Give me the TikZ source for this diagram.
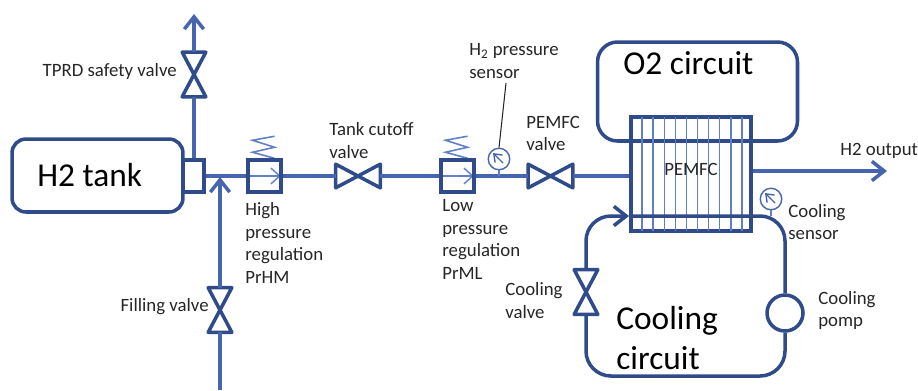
\documentclass[tikz,border=0pt]{standalone}
\usepackage{fontspec}
\setmainfont{Carlito}
\usetikzlibrary{arrows.meta, positioning, calc}
\definecolor{darkline}{HTML}{2F4B8A}
\definecolor{pipeline}{HTML}{4665AC}
\definecolor{thinline}{HTML}{5F7FC6}
\newcommand{\smalltext}{\fontsize{10.7}{13}\selectfont}
\newcommand{\bigtext}{\fontsize{19}{23}\selectfont}
\tikzstyle{pipe} = [draw=pipeline,line width=2pt]
\tikzstyle{pipearrow} = [pipe,-{Straight Barb[length=7pt,width=11pt,line width=2pt]}]
\tikzstyle{thick box} = [draw=darkline,line width=2pt,rectangle,inner sep=0pt]
\tikzstyle{circuit} = [draw=darkline,line width=2pt,rounded corners=0.5cm]
\tikzstyle{note} = [align=left,inner sep=0pt,anchor=west,font=\smalltext,text=black!85]
\tikzstyle{hvalve} = [inner sep=0pt,minimum width=0.88cm,minimum height=0.46cm,
        append after command={\pgfextra{\draw[darkline,line width=2pt,line join=round]
        (\tikzlastnode.north west) -- (\tikzlastnode.south east) -- (\tikzlastnode.north east)
        -- (\tikzlastnode.south west) -- cycle;}}]
\tikzstyle{vvalve} = [inner sep=0pt,minimum width=0.46cm,minimum height=0.88cm,
        append after command={\pgfextra{\draw[darkline,line width=2pt,line join=round]
        (\tikzlastnode.north west) -- (\tikzlastnode.south east) -- (\tikzlastnode.south west)
        -- (\tikzlastnode.north east) -- cycle;}}]
\tikzstyle{regulator} = [thick box,minimum width=0.66cm,minimum height=0.64cm,
        append after command={\pgfextra{
        \draw[thinline,line width=0.8pt,-{Straight Barb[length=5pt,width=9pt,line width=0.8pt]}]
        (\tikzlastnode.west) -- ([xshift=-0.04cm]\tikzlastnode.east);
        \draw[thinline,line width=0.9pt]
        ([shift={(10,-22)}]\tikzlastnode.north) -- ([shift={(-12,-18)}]\tikzlastnode.north)
        -- ([shift={(10,-11)}]\tikzlastnode.north) -- ([shift={(-12,-6)}]\tikzlastnode.north)
        -- ([shift={(10,0)}]\tikzlastnode.north);}}]
\tikzstyle{gauge} = [draw=pipeline,line width=0.8pt,circle,inner sep=0pt,minimum width=0.43cm,
        append after command={\pgfextra{
        \draw[pipeline,line width=0.8pt,-{Straight Barb[length=4pt,width=6pt,line width=0.8pt]}]
        ([shift={(4,4)}]\tikzlastnode.center) -- ([shift={(-6,-6)}]\tikzlastnode.center);}}]

\begin{document}
\begin{tikzpicture}[x=0.02cm,y=-0.02cm]
        \useasboundingbox (0,0) rectangle (918,390);
        \node (tank) [thick box,rounded corners=0.28cm,minimum width=3.42cm,minimum height=1.46cm] at (97.5,175.5) {};
        \node (tanklabel) [note,font=\bigtext,text=black] at (37,175) {H2 tank};
        \node (tankport) [thick box,minimum width=0.42cm,minimum height=0.64cm] at (193.5,176) {};

        \node (tprd) [vvalve] at (194,74.5) {};
        \node (tprdlabel) [note,anchor=east] at (177,71) {TPRD safety valve};
        \coordinate (vent) at (194,14);
        \draw [pipe] (tprd.south) -- (tprd.south |- tankport.north);
        \draw [pipearrow] (tprd.north) -- (vent);

        \node (fill) [vvalve] at (220,310) {};
        \node (filllabel) [note,anchor=east] at (209,307) {Filling valve};
        \coordinate (fillin) at (220,390);
        \coordinate (filljoin) at (220,177);
        \draw [pipe] (fillin) -- (fill.south);
        \draw [pipearrow] (fill.north) -- (filljoin);

        \node (prhm) [regulator] at (264.5,176) {};
        \node (prhmlabel) [note] at (245,243) {High\\pressure\\regulation\\PrHM};
        \draw [pipe] (tankport.east |- prhm) -- (prhm.west);

        \node (cutoff) [hvalve] at (358,176) {};
        \node (cutofflabel) [note] at (329,140.5) {Tank cutoff\\valve};
        \draw [pipe] (prhm.east) -- (cutoff.west);

        \node (prml) [regulator] at (457.5,176) {};
        \node (prmllabel) [note] at (442,239.5) {Low\\pressure\\regulation\\PrML};
        \draw [pipe] (cutoff.east) -- (prml.west);

        \node (pemvalve) [hvalve] at (550.5,176) {};
        \node (pemvalvelabel) [note] at (526,133.5) {PEMFC\\valve};
        \draw [pipe] (prml.east) -- (pemvalve.west);

        \node (h2gauge) [gauge] at (499,159) {};
        \coordinate (h2tee) at (499,176);
        \node (h2gaugelabel) [note] at (469,61) {H\textsubscript{2} pressure\\sensor};
        \draw [thinline,line width=0.9pt] (h2gauge.south) -- (h2tee);
        \draw [black!85,line width=0.6pt] (h2gauge.north) -- (506,83);

        \node (oxygen) [circuit,rounded corners=0.4cm,minimum width=4cm,minimum height=1.98cm,inner sep=0pt] at (697.5,91.5) {};
        \node (oxygenlabel) [note,font=\bigtext,text=black] at (623,63) {O2 circuit};

        \node (stack) [thick box,minimum width=2.4cm,minimum height=2.28cm] at (691,174) {};
        \foreach \i in {0,...,9}
                \draw [thinline,line width=0.8pt] (642+11.1*\i,117) -- (642+11.1*\i,231);
        \node (stacklabel) [note,anchor=center] at (691,169) {PEMFC};
        \draw [pipe] (pemvalve.east) -- (pemvalve.east -| stack.west);

        \coordinate (output) at (887,171);
        \node (outputlabel) [note] at (840,151) {H2 output};
        \draw [pipearrow] (output -| stack.east) -- (output);

        \node (coolvalve) [vvalve] at (586,292) {};
        \node (coolvalvelabel) [note] at (505,300.5) {Cooling\\valve};
        \node (pump) [draw=darkline,line width=2pt,circle,inner sep=0pt,minimum width=0.72cm] at (785,313) {};
        \node (pumplabel) [note] at (818,310.5) {Cooling\\pomp};
        \coordinate (coolin) at (629,216);
        \coordinate (coolbottom) at (680,376);
        \draw [circuit,-{Straight Barb[length=7pt,width=11pt,line width=2pt]}] (coolvalve.north) |- (coolin);
        \draw [circuit] (coolin) -| (pump.north);
        \draw [circuit] (coolvalve.south) |- (coolbottom) -| (pump.south);
        \node (coollabel) [note,font=\bigtext,text=black] at (616,338) {Cooling\\circuit};

        \node (coolgauge) [gauge] at (771,199) {};
        \node (coolgaugelabel) [note] at (788,222) {Cooling\\sensor};
        \draw [thinline,line width=0.8pt] (coolgauge.south) -- (coolgauge.south |- coolin);
\end{tikzpicture}
\end{document}
